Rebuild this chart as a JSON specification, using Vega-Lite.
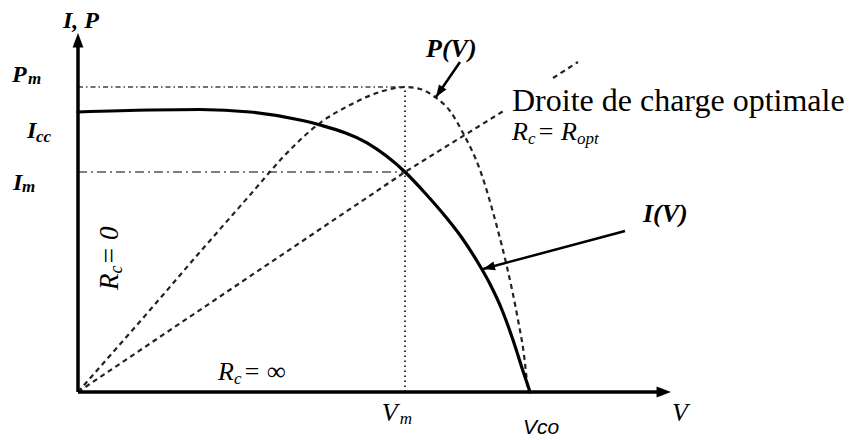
{
  "$schema": "https://vega.github.io/schema/vega-lite/v6.json",
  "width": 856,
  "height": 440,
  "autosize": {"type": "none"},
  "padding": 0,
  "background": "white",
  "config": {"view": {"stroke": null}},
  "datasets": {
    "iv": [
      {"x": 0, "y": 10},
      {"x": 1.593, "y": 10.071},
      {"x": 2.699, "y": 10.09},
      {"x": 3.805, "y": 10.0},
      {"x": 4.912, "y": 9.714},
      {"x": 5.354, "y": 9.536},
      {"x": 6.394, "y": 8.893},
      {"x": 7.235, "y": 7.857},
      {"x": 7.677, "y": 7.107},
      {"x": 8.119, "y": 6.286},
      {"x": 8.496, "y": 5.5},
      {"x": 8.827, "y": 4.679},
      {"x": 9.115, "y": 3.857},
      {"x": 9.381, "y": 2.929},
      {"x": 9.624, "y": 1.857},
      {"x": 9.845, "y": 0.75},
      {"x": 10, "y": 0}
    ],
    "pv": [
      {"x": 0, "y": 0},
      {"x": 1.593, "y": 2.929},
      {"x": 2.699, "y": 5.0},
      {"x": 3.805, "y": 7.036},
      {"x": 4.58, "y": 8.464},
      {"x": 4.912, "y": 9.0},
      {"x": 5.354, "y": 9.607},
      {"x": 6.018, "y": 10.25},
      {"x": 6.748, "y": 10.75},
      {"x": 7.235, "y": 10.893},
      {"x": 7.566, "y": 10.821},
      {"x": 7.898, "y": 10.536},
      {"x": 8.23, "y": 10.036},
      {"x": 8.518, "y": 9.25},
      {"x": 8.894, "y": 7.929},
      {"x": 9.27, "y": 5.893},
      {"x": 9.491, "y": 4.464},
      {"x": 9.735, "y": 2.571},
      {"x": 9.867, "y": 1.321},
      {"x": 9.956, "y": 0}
    ],
    "load": [
      {"seg": "a", "x": 0, "y": 0},
      {"seg": "a", "x": 7.235, "y": 7.857},
      {"seg": "a", "x": 9.447, "y": 10.071},
      {"seg": "b", "x": 10.509, "y": 11.214},
      {"seg": "b", "x": 11.062, "y": 11.786}
    ],
    "segments": [
      {"kind": "axis", "x": 0, "y": 0, "x2": 0, "y2": 12.43},
      {"kind": "axis", "x": 0, "y": 0, "x2": 12.832, "y2": 0},
      {"kind": "pm", "x": 0, "y": 10.893, "x2": 7.235, "y2": 10.893},
      {"kind": "im", "x": 0, "y": 7.857, "x2": 7.235, "y2": 7.857},
      {"kind": "vm", "x": 7.235, "y": 0, "x2": 7.235, "y2": 10.893},
      {"kind": "arrow", "x": 8.451, "y": 11.786, "x2": 7.92, "y2": 10.536},
      {"kind": "arrow", "x": 12.102, "y": 5.75, "x2": 8.96, "y2": 4.393}
    ],
    "heads": [
      {"kind": "axis", "x": 0, "y": 12.821, "angle": 0},
      {"kind": "axis", "x": 13.119, "y": 0, "angle": 90},
      {"kind": "arrow", "x": 7.92, "y": 10.536, "angle": 214},
      {"kind": "arrow", "x": 8.96, "y": 4.393, "angle": 255}
    ],
    "labels": [
      {"group": "bi", "text": "I, P", "x": -0.332, "y": 13.0},
      {"group": "bi", "text": "P", "x": -1.46, "y": 11.071},
      {"group": "bi", "text": "I", "x": -1.128, "y": 9.071},
      {"group": "bi", "text": "I", "x": -1.438, "y": 7.214},
      {"group": "bil", "text": "P(V)", "x": 7.7, "y": 11.964},
      {"group": "bil", "text": "I(V)", "x": 12.5, "y": 6.071},
      {"group": "bisub", "text": "m", "x": -1.106, "y": 11.0},
      {"group": "bisub", "text": "cc", "x": -0.929, "y": 8.929},
      {"group": "bisub", "text": "m", "x": -1.239, "y": 7.143},
      {"group": "it", "text": "V", "x": 6.72, "y": -1.036},
      {"group": "it", "text": "V", "x": 13.142, "y": -1.036},
      {"group": "it", "text": "R", "x": 3.097, "y": 0.429},
      {"group": "it", "text": "= ∞", "x": 3.65, "y": 0.429},
      {"group": "it", "text": "R", "x": 9.602, "y": 9.0},
      {"group": "it", "text": "= R", "x": 10.155, "y": 9.0},
      {"group": "itsub", "text": "m", "x": 7.12, "y": -1.143},
      {"group": "itsub", "text": "c", "x": 3.451, "y": 0.286},
      {"group": "itsub", "text": "c", "x": 9.956, "y": 8.857},
      {"group": "itsub", "text": "opt", "x": 11.04, "y": 8.857},
      {"group": "rot", "text": "R", "x": 0.885, "y": 3.643},
      {"group": "rot", "text": "= 0", "x": 0.885, "y": 4.536},
      {"group": "rotsub", "text": "c", "x": 0.973, "y": 4.232},
      {"group": "plain", "text": "Droite de charge optimale", "x": 9.602, "y": 10.036},
      {"group": "sans", "text": "Vco", "x": 9.845, "y": -1.5}
    ]
  },
  "encoding": {
    "x": {"field": "x", "type": "quantitative", "scale": {"domain": [-1.7257, 17.2124], "nice": false, "zero": false}, "axis": null},
    "y": {"field": "y", "type": "quantitative", "scale": {"domain": [-1.7143, 14], "nice": false, "zero": false}, "axis": null}
  },
  "layer": [
    {
      "data": {"name": "segments"},
      "transform": [{"filter": "datum.kind === 'pm'"}],
      "mark": {"type": "rule", "color": "#444", "strokeWidth": 1.5, "strokeDash": [5, 3, 1.5, 3]},
      "encoding": {"x2": {"field": "x2"}, "y2": {"field": "y2"}}
    },
    {
      "data": {"name": "segments"},
      "transform": [{"filter": "datum.kind === 'im'"}],
      "mark": {"type": "rule", "color": "#555", "strokeWidth": 1.6, "strokeDash": [9, 4, 2, 4]},
      "encoding": {"x2": {"field": "x2"}, "y2": {"field": "y2"}}
    },
    {
      "data": {"name": "segments"},
      "transform": [{"filter": "datum.kind === 'vm'"}],
      "mark": {"type": "rule", "color": "#333", "strokeWidth": 2, "strokeDash": [1.5, 3.5]},
      "encoding": {"x2": {"field": "x2"}, "y2": {"field": "y2"}}
    },
    {
      "data": {"name": "load"},
      "mark": {"type": "line", "color": "#222", "strokeWidth": 2.2, "strokeDash": [5, 4]},
      "encoding": {"detail": {"field": "seg"}}
    },
    {
      "data": {"name": "pv"},
      "mark": {"type": "line", "color": "#222", "strokeWidth": 2.2, "strokeDash": [5, 4], "interpolate": "monotone"},
      "encoding": {}
    },
    {
      "data": {"name": "iv"},
      "mark": {"type": "line", "color": "black", "strokeWidth": 3.2, "strokeCap": "round", "interpolate": "monotone"},
      "encoding": {}
    },
    {
      "data": {"name": "segments"},
      "transform": [{"filter": "datum.kind === 'axis'"}],
      "mark": {"type": "rule", "color": "black", "strokeWidth": 3.5},
      "encoding": {"x2": {"field": "x2"}, "y2": {"field": "y2"}}
    },
    {
      "data": {"name": "segments"},
      "transform": [{"filter": "datum.kind === 'arrow'"}],
      "mark": {"type": "rule", "color": "black", "strokeWidth": 2.5},
      "encoding": {"x2": {"field": "x2"}, "y2": {"field": "y2"}}
    },
    {
      "data": {"name": "heads"},
      "transform": [{"filter": "datum.kind === 'axis'"}],
      "mark": {"type": "point", "shape": "M0,0L0.9,2.4L-0.9,2.4Z", "filled": true, "color": "black", "opacity": 1, "size": 144},
      "encoding": {"angle": {"field": "angle", "type": "quantitative", "scale": null}}
    },
    {
      "data": {"name": "heads"},
      "transform": [{"filter": "datum.kind === 'arrow'"}],
      "mark": {"type": "point", "shape": "M0,0L0.9,2.4L-0.9,2.4Z", "filled": true, "color": "black", "opacity": 1, "size": 100},
      "encoding": {"angle": {"field": "angle", "type": "quantitative", "scale": null}}
    },
    {
      "data": {"name": "labels"},
      "transform": [{"filter": "datum.group === 'bi'"}],
      "mark": {"type": "text", "align": "left", "baseline": "alphabetic", "font": "Liberation Serif", "fontSize": 24, "fontStyle": "italic", "fontWeight": "bold", "color": "black"},
      "encoding": {"text": {"field": "text"}}
    },
    {
      "data": {"name": "labels"},
      "transform": [{"filter": "datum.group === 'bil'"}],
      "mark": {"type": "text", "align": "left", "baseline": "alphabetic", "font": "Liberation Serif", "fontSize": 26, "fontStyle": "italic", "fontWeight": "bold", "color": "black"},
      "encoding": {"text": {"field": "text"}}
    },
    {
      "data": {"name": "labels"},
      "transform": [{"filter": "datum.group === 'bisub'"}],
      "mark": {"type": "text", "align": "left", "baseline": "alphabetic", "font": "Liberation Serif", "fontSize": 17, "fontStyle": "italic", "fontWeight": "bold", "color": "black"},
      "encoding": {"text": {"field": "text"}}
    },
    {
      "data": {"name": "labels"},
      "transform": [{"filter": "datum.group === 'it'"}],
      "mark": {"type": "text", "align": "left", "baseline": "alphabetic", "font": "Liberation Serif", "fontSize": 26, "fontStyle": "italic", "color": "black"},
      "encoding": {"text": {"field": "text"}}
    },
    {
      "data": {"name": "labels"},
      "transform": [{"filter": "datum.group === 'itsub'"}],
      "mark": {"type": "text", "align": "left", "baseline": "alphabetic", "font": "Liberation Serif", "fontSize": 17, "fontStyle": "italic", "color": "black"},
      "encoding": {"text": {"field": "text"}}
    },
    {
      "data": {"name": "labels"},
      "transform": [{"filter": "datum.group === 'rot'"}],
      "mark": {"type": "text", "align": "left", "baseline": "alphabetic", "angle": 270, "font": "Liberation Serif", "fontSize": 27, "fontStyle": "italic", "color": "black"},
      "encoding": {"text": {"field": "text"}}
    },
    {
      "data": {"name": "labels"},
      "transform": [{"filter": "datum.group === 'rotsub'"}],
      "mark": {"type": "text", "align": "left", "baseline": "alphabetic", "angle": 270, "font": "Liberation Serif", "fontSize": 18, "fontStyle": "italic", "color": "black"},
      "encoding": {"text": {"field": "text"}}
    },
    {
      "data": {"name": "labels"},
      "transform": [{"filter": "datum.group === 'plain'"}],
      "mark": {"type": "text", "align": "left", "baseline": "alphabetic", "font": "Liberation Serif", "fontSize": 32, "color": "black"},
      "encoding": {"text": {"field": "text"}}
    },
    {
      "data": {"name": "labels"},
      "transform": [{"filter": "datum.group === 'sans'"}],
      "mark": {"type": "text", "align": "left", "baseline": "alphabetic", "font": "Liberation Sans", "fontSize": 21, "fontStyle": "italic", "color": "black"},
      "encoding": {"text": {"field": "text"}}
    }
  ]
}
